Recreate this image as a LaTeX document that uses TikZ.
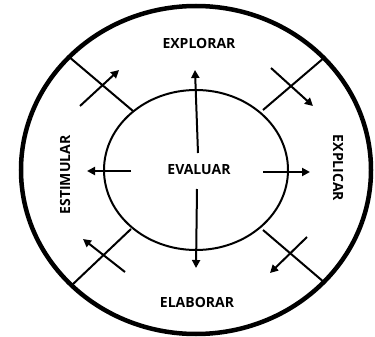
\documentclass[tikz,border=0pt]{standalone}
\usepackage{fontspec}
\setmainfont{Open Sans}
\usetikzlibrary{arrows.meta}
\begin{document}
\begin{tikzpicture}[x=1pt,y=-1pt,
  outer/.style={line width=4.5pt},
  inner/.style={line width=2pt},
  sep/.style={line width=2pt},
  arr/.style={line width=2pt,-{Triangle[length=8pt,width=8pt]}},
  lbl/.style={font=\fontsize{14}{17}\selectfont\bfseries,inner sep=0pt}]
\useasboundingbox (0,0) rectangle (375,337);
\draw[outer] (196,170) ellipse [x radius=175, y radius=164];
\draw[inner] (196,170) ellipse [x radius=92, y radius=80];
% separators
\coordinate (s1a) at (133,111); \coordinate (s1b) at (68,56);
\coordinate (s2a) at (263,110); \coordinate (s2b) at (325,57);
\coordinate (s3a) at (131,229); \coordinate (s3b) at (72,285);
\coordinate (s4a) at (263,230); \coordinate (s4b) at (325,283);
\draw[sep] (s1a) -- (s1b);
\draw[sep] (s2a) -- (s2b);
\draw[sep] (s3a) -- (s3b);
\draw[sep] (s4a) -- (s4b);
% diagonal arrows
\coordinate (d1a) at (80,106); \coordinate (d1b) at (119,70);
\coordinate (d2a) at (271,68); \coordinate (d2b) at (313,106);
\coordinate (d3a) at (125,272); \coordinate (d3b) at (83,239);
\coordinate (d4a) at (307,237); \coordinate (d4b) at (270,273);
\draw[arr] (d1a) -- (d1b);
\draw[arr] (d2a) -- (d2b);
\draw[arr] (d3a) -- (d3b);
\draw[arr] (d4a) -- (d4b);
% central arrows
\coordinate (u1) at (198,153); \coordinate (u2) at (195,70);
\coordinate (w1) at (197,189); \coordinate (w2) at (196,268);
\coordinate (l1) at (131,171); \coordinate (l2) at (87,171);
\coordinate (r1) at (263,172); \coordinate (r2) at (310,172);
\draw[arr] (u1) -- (u2);
\draw[arr] (w1) -- (w2);
\draw[arr] (l1) -- (l2);
\draw[arr] (r1) -- (r2);
% labels
\node[lbl] (explorar) at (199,43) {EXPLORAR};
\node[lbl] (evaluar) at (199,170) {EVALUAR};
\node[lbl] (elaborar) at (197,302) {ELABORAR};
\node[lbl,rotate=90] (estimular) at (65,175) {ESTIMULAR};
\node[lbl,rotate=-90] (explicar) at (338,168) {EXPLICAR};
\end{tikzpicture}
\end{document}
